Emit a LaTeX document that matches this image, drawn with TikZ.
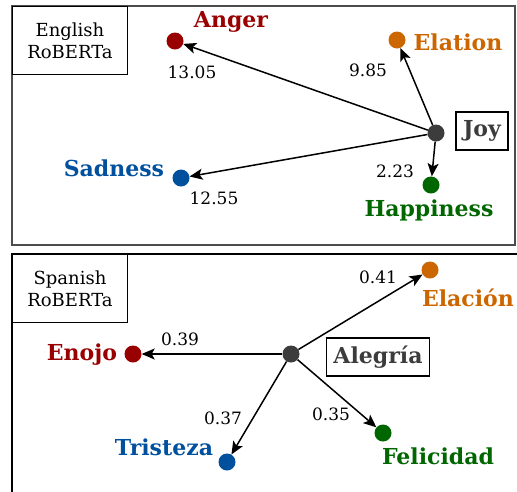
\documentclass[tikz,border=0pt]{standalone}
\usepackage{fontspec}
\setmainfont{DejaVu Serif}
\usetikzlibrary{arrows.meta}

\definecolor{angercol}{HTML}{990000}
\definecolor{elatcol}{HTML}{CC6600}
\definecolor{happycol}{HTML}{006600}
\definecolor{sadcol}{HTML}{00509E}
\definecolor{joycol}{HTML}{3C3C3C}

\tikzset{
  emo/.style={circle,fill=#1,inner sep=0pt,minimum size=17pt},
  emolabel/.style={text=#1,font=\fontsize{22}{24}\selectfont\bfseries,inner sep=0pt},
  score/.style={font=\fontsize{17}{19}\selectfont,inner sep=0pt},
  modelbox/.style={draw,fill=white,line width=1pt,font=\fontsize{18}{22}\selectfont,align=center,
    minimum width=115pt,minimum height=68pt,anchor=north west,inner sep=2pt},
  centrebox/.style={draw,line width=1.6pt,text=joycol,font=\fontsize{22}{24}\selectfont\bfseries,
    minimum height=38pt,inner xsep=7pt},
  edge/.style={-{Stealth[length=13pt,width=11pt,inset=3pt]},line width=1.5pt}
}

\begin{document}
\begin{tikzpicture}[x=1pt,y=-1pt]
        \useasboundingbox (0,0) rectangle (517,491);

        % panels
        \draw[black!70,line width=1.5pt] (12,6) rectangle (515,245);
        \draw[line width=1.2pt] (12,254) rectangle (530,500);
        \node[modelbox] (english) at (12,6) {English\\RoBERTa};
        \node[modelbox] (spanish) at (12,254) {Spanish\\RoBERTa};

        % English RoBERTa
        \node[emo=joycol] (joy) at (436,133) {};
        \node[emo=angercol] (anger) at (175,41) {};
        \node[emo=elatcol] (elation) at (397,40) {};
        \node[emo=happycol] (happiness) at (431,185) {};
        \node[emo=sadcol] (sadness) at (181,178) {};

        \node[centrebox] (joybox) at (482,131) {Joy};
        \node[emolabel=angercol] (angerlbl) at (231,22) {Anger};
        \node[emolabel=elatcol] (elationlbl) at (458,42) {Elation};
        \node[emolabel=happycol] (happinesslbl) at (429,210) {Happiness};
        \node[emolabel=sadcol] (sadnesslbl) at (114,168) {Sadness};

        \draw[edge] (joy) -- (anger);
        \draw[edge] (joy) -- (elation);
        \draw[edge] (joy) -- (happiness);
        \draw[edge] (joy) -- (sadness);

        \node[score] (s1) at (192,72) {13.05};
        \node[score] (s2) at (368,70) {9.85};
        \node[score] (s3) at (395,171) {2.23};
        \node[score] (s4) at (214,198) {12.55};

        % Spanish RoBERTa
        \node[emo=joycol] (alegria) at (291,354) {};
        \node[emo=elatcol] (elacion) at (430,270) {};
        \node[emo=angercol] (enojo) at (133,354) {};
        \node[emo=sadcol] (tristeza) at (227,462) {};
        \node[emo=happycol] (felicidad) at (383,433) {};

        \node[centrebox] (alegriabox) at (378,357) {Alegría};
        \node[emolabel=elatcol] (elacionlbl) at (468,298) {Elación};
        \node[emolabel=angercol] (enojolbl) at (82,355) {Enojo};
        \node[emolabel=sadcol] (tristezalbl) at (164,447) {Tristeza};
        \node[emolabel=happycol] (felicidadlbl) at (438,456) {Felicidad};

        \draw[edge] (alegria) -- (elacion);
        \draw[edge] (alegria) -- (enojo);
        \draw[edge] (alegria) -- (tristeza);
        \draw[edge] (alegria) -- (felicidad);

        \node[score] (t1) at (378,277) {0.41};
        \node[score] (t2) at (180,339) {0.39};
        \node[score] (t3) at (223,418) {0.37};
        \node[score] (t4) at (331,414) {0.35};
\end{tikzpicture}
\end{document}
